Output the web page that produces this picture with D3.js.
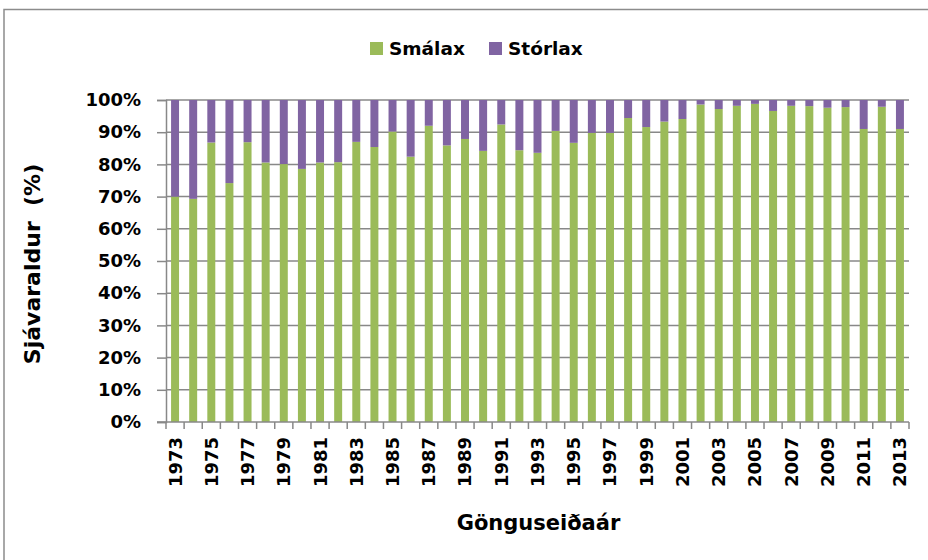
<!DOCTYPE html>
<html>
<head>
<meta charset="utf-8">
<script src="https://cdn.jsdelivr.net/npm/d3@7"></script>
<style>
	body { margin: 0; background: #fff; }
	text { font-family: "DejaVu Sans", sans-serif; font-weight: bold; fill: #000; }
</style>
</head>
<body>
<svg id="chart" width="928" height="560"></svg>
<script>
// ár (gönguseiðaár)
var years = d3.range(1973, 2014);
// hlutfall smálax (%)
var smalax = [70, 69.3, 86.8, 74.2, 86.9, 80.6, 80.1, 78.6, 80.6, 80.7,
	87, 85.4, 90.2, 82.4, 92, 85.9, 87.9, 84.2, 92.4, 84.4,
	83.6, 90.4, 86.7, 89.8, 89.8, 94.4, 91.6, 93.3, 94.1, 98.6,
	97.2, 98.2, 98.8, 96.6, 98.2, 98.1, 97.6, 97.8, 91, 97.9, 91];
// hlutfall stórlax (%)
var storlax = [30, 30.7, 13.2, 25.8, 13.1, 19.4, 19.9, 21.4, 19.4, 19.3,
	13, 14.6, 9.8, 17.6, 8, 14.1, 12.1, 15.8, 7.6, 15.6,
	16.4, 9.6, 13.3, 10.2, 10.2, 5.6, 8.4, 6.7, 5.9, 1.4,
	2.8, 1.8, 1.2, 3.4, 1.8, 1.9, 2.4, 2.2, 9, 2.1, 9];
var seriesNames = ["Smálax", "Stórlax"];
var yTicks = [0, 0.1, 0.2, 0.3, 0.4, 0.5, 0.6, 0.7, 0.8, 0.9, 1];

var colors = ["#9bbb59", "#8064a2"];
var margin = {left: 166, right: 19, top: 100, bottom: 138};
var width = 928, height = 560;

var svg = d3.select("#chart");

// ramminn utan um myndina
svg.append("rect")
	.attr("x", 4).attr("y", 9.5)
	.attr("width", 960).attr("height", 600)
	.attr("fill", "#fff")
	.attr("stroke", "#8c8c8c")
	.attr("stroke-width", 1.5);

var rows = years.map(function(y, i) {
	return {year: y, "Smálax": smalax[i], "Stórlax": storlax[i]};
});

var stacked = d3.stack()
	.keys(seriesNames)
	.offset(d3.stackOffsetExpand)(rows);

var xScale = d3.scaleBand()
	.domain(years)
	.range([margin.left, width - margin.right])
	.paddingInner(0.56)
	.paddingOuter(0.28);

var yScale = d3.scaleLinear()
	.domain([0, 1])
	.range([height - margin.bottom, margin.top]);

var step = xScale.step();
var x0 = margin.left, x1 = width - margin.right;
var yBase = yScale(0);

// gridlínur
svg.append("g").attr("class", "grid")
	.selectAll("line")
	.data(yTicks.slice(1))
	.enter()
	.append("line")
	.attr("x1", x0).attr("x2", x1)
	.attr("y1", function(d) { return yScale(d); })
	.attr("y2", function(d) { return yScale(d); })
	.attr("stroke", "#888")
	.attr("stroke-width", 1.5);

// súlur
var layers = svg.append("g").attr("class", "content")
	.selectAll("g")
	.data(stacked)
	.enter()
	.append("g")
	.attr("fill", function(d, i) { return colors[i]; });

layers.selectAll("rect")
	.data(function(d) { return d; })
	.enter()
	.append("rect")
	.attr("x", function(d) { return xScale(d.data.year); })
	.attr("width", xScale.bandwidth())
	.attr("y", function(d) { return yScale(d[1]); })
	.attr("height", function(d) { return yScale(d[0]) - yScale(d[1]); });

// y ás
var yAxis = d3.axisLeft(yScale)
	.tickValues(yTicks)
	.tickFormat(d3.format(".0%"))
	.tickSize(9)
	.tickPadding(16);

var gy = svg.append("g")
	.attr("transform", "translate(" + x0 + ",0)")
	.call(yAxis);
gy.select(".domain").attr("stroke", "#888").attr("stroke-width", 1.5);
gy.selectAll(".tick line").attr("stroke", "#888").attr("stroke-width", 1.5);
gy.selectAll(".tick text").attr("font-size", 18);

// x ás
svg.append("line")
	.attr("x1", x0 - 9).attr("x2", x1)
	.attr("y1", yBase).attr("y2", yBase)
	.attr("stroke", "#888")
	.attr("stroke-width", 1.5);

svg.append("g").selectAll("line")
	.data(d3.range(years.length + 1))
	.enter()
	.append("line")
	.attr("x1", function(i) { return x0 + i * step; })
	.attr("x2", function(i) { return x0 + i * step; })
	.attr("y1", yBase).attr("y2", yBase + 7)
	.attr("stroke", "#888")
	.attr("stroke-width", 1.5);

svg.append("g").selectAll("text")
	.data(years.filter(function(y) { return y % 2 == 1; }))
	.enter()
	.append("text")
	.attr("transform", function(d) {
		return "translate(" + (xScale(d) + xScale.bandwidth() / 2) + "," + (yBase + 15) + ") rotate(-90)";
	})
	.attr("text-anchor", "end")
	.attr("dy", "0.36em")
	.attr("font-size", 18)
	.text(function(d) { return d; });

// ásaheiti
svg.append("text")
	.attr("x", (x0 + x1) / 2 + 1)
	.attr("y", 530)
	.attr("text-anchor", "middle")
	.attr("font-size", 21)
	.text("Gönguseiðaár");

svg.append("text")
	.attr("transform", "translate(40,264) rotate(-90)")
	.attr("text-anchor", "middle")
	.attr("font-size", 22)
	.attr("xml:space", "preserve")
	.style("white-space", "pre")
	.text("Sjávaraldur  (%)");

// skýringar
var legend = svg.append("g").attr("class", "legend");
var legendX = [370, 489];
seriesNames.forEach(function(name, i) {
	legend.append("rect")
		.attr("x", legendX[i]).attr("y", 42)
		.attr("width", 13).attr("height", 13)
		.attr("fill", colors[i]);
	legend.append("text")
		.attr("x", legendX[i] + 19)
		.attr("y", 55)
		.attr("font-size", 18.5)
		.text(name);
});
</script>
</body>
</html>
